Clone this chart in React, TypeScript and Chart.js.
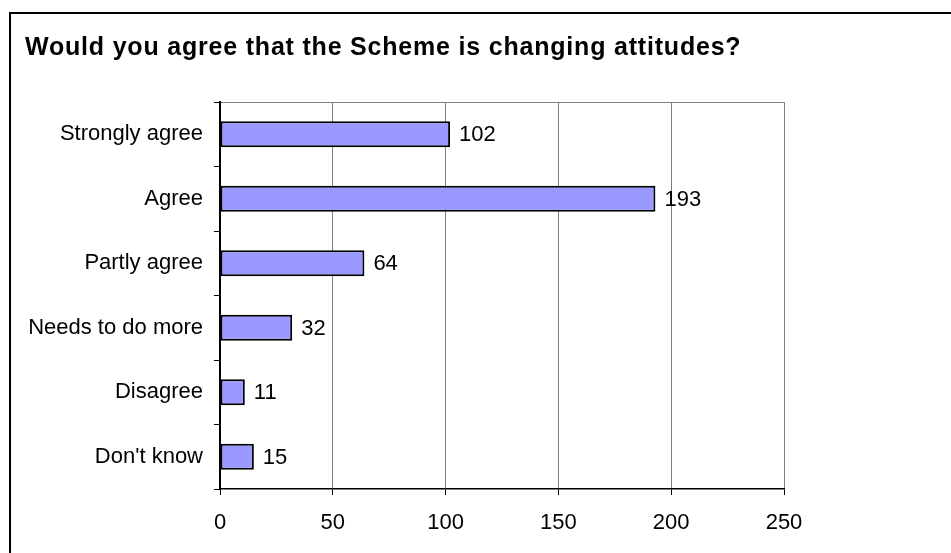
import React, { useEffect, useRef } from "react";
import { Chart, registerables } from "chart.js";

Chart.register(...registerables);

const TITLE = "Would you agree that the Scheme is changing attitudes?";
const categories = [
  "Strongly agree",
  "Agree",
  "Partly agree",
  "Needs to do more",
  "Disagree",
  "Don't know",
];
const values = [102, 193, 64, 32, 11, 15];
const xMin = 0;
const xMax = 250;
const xStep = 50;

const FONT = "'Liberation Sans', Arial, sans-serif";

export default function App() {
  const ref = useRef<HTMLCanvasElement>(null);

  useEffect(() => {
    const canvas = ref.current;
    if (!canvas) return;

    const framePlugin = {
      id: "frame",
      beforeDraw(chart: any) {
        const ctx = chart.ctx as CanvasRenderingContext2D;
        ctx.save();
        ctx.fillStyle = "#ffffff";
        ctx.fillRect(0, 0, chart.width, chart.height);
        ctx.strokeStyle = "#000000";
        ctx.lineWidth = 2;
        ctx.strokeRect(10, 13, chart.width + 40, chart.height + 40);
        ctx.font = `bold 25px ${FONT}`;
        (ctx as any).letterSpacing = "0.8px";
        ctx.fillStyle = "#000000";
        ctx.textAlign = "left";
        ctx.textBaseline = "alphabetic";
        ctx.fillText(TITLE, 25, 55);
        (ctx as any).letterSpacing = "0px";
        const a = chart.chartArea;
        ctx.strokeStyle = "#808080";
        ctx.lineWidth = 1;
        ctx.beginPath();
        ctx.moveTo(a.left, Math.round(a.top) + 0.5);
        ctx.lineTo(a.right, Math.round(a.top) + 0.5);
        ctx.stroke();
        ctx.restore();
      },
    };

    const valueLabels = {
      id: "valueLabels",
      afterDatasetsDraw(chart: any) {
        const ctx = chart.ctx as CanvasRenderingContext2D;
        const meta = chart.getDatasetMeta(0);
        ctx.save();
        ctx.font = `22px ${FONT}`;
        ctx.fillStyle = "#000000";
        ctx.textAlign = "left";
        ctx.textBaseline = "middle";
        meta.data.forEach((bar: any, i: number) => {
          ctx.fillText(String(values[i]), bar.x + 9, bar.y + 1);
        });
        ctx.restore();
      },
    };

    const chart = new Chart(canvas, {
      type: "bar",
      data: {
        labels: categories,
        datasets: [
          {
            data: values,
            backgroundColor: "#9999FF",
            borderColor: "#000000",
            borderWidth: 2,
            borderSkipped: false,
            categoryPercentage: 1,
            barPercentage: 0.4,
          },
        ],
      },
      options: {
        indexAxis: "y",
        responsive: false,
        animation: false,
        events: [],
        layout: { padding: { left: 0, right: 167, top: 102, bottom: 0 } },
        plugins: {
          legend: { display: false },
          tooltip: { enabled: false },
          title: { display: false },
        },
        scales: {
          x: {
            type: "linear",
            position: "bottom",
            min: xMin,
            max: xMax,
            ticks: {
              stepSize: xStep,
              color: "#000000",
              font: { family: FONT, size: 22 },
              padding: 15,
            },
            grid: {
              color: "#808080",
              tickColor: "#000000",
              tickLength: 6,
              lineWidth: 1,
            },
            border: { color: "#000000", width: 1.5 },
            afterFit(scale: any) {
              scale.height = 64;
            },
          },
          y: {
            type: "category",
            position: "left",
            ticks: {
              color: "#000000",
              font: { family: FONT, size: 22 },
              padding: 11,
            },
            grid: {
              drawOnChartArea: false,
              offset: true,
              tickColor: "#000000",
              tickLength: 6,
            },
            border: { color: "#000000", width: 2 },
            afterFit(scale: any) {
              scale.width = 220;
            },
          },
        },
      },
      plugins: [framePlugin, valueLabels],
    } as any);

    return () => chart.destroy();
  }, []);

  return (
    <div
      style={{
        position: "fixed",
        left: 0,
        top: 0,
        width: 951,
        height: 553,
        background: "#ffffff",
      }}
    >
      <canvas ref={ref} width={951} height={553} style={{ width: 951, height: 553, display: "block" }} />
    </div>
  );
}
